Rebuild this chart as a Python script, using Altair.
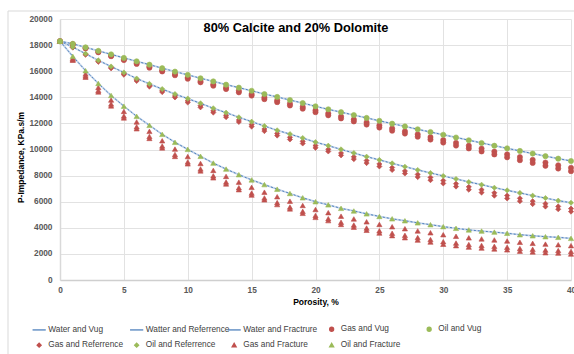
import altair as alt
import pandas as pd

porosity = list(range(41))

# Oil (and water) curves, KPa.s/m
oil_vug = [18300, 18100, 17830, 17560, 17290, 17020, 16760, 16500, 16230, 15970, 15720,
           15460, 15220, 14970, 14740, 14500, 14250, 14030, 13790, 13560, 13310,
           13080, 12860, 12640, 12420, 12200, 11980, 11770, 11550, 11340, 11130,
           10920, 10710, 10500, 10290, 10090, 9890, 9690, 9490, 9300, 9120]
oil_ref = [18300, 17850, 17340, 16830, 16360, 15900, 15440, 15030, 14630, 14250, 13900,
           13540, 13160, 12820, 12470, 12130, 11800, 11470, 11180, 10880, 10560,
           10290, 10010, 9730, 9450, 9200, 8940, 8680, 8430, 8200, 7970,
           7740, 7510, 7300, 7070, 6870, 6670, 6460, 6280, 6080, 5920]
oil_frac = [18300, 17140, 16040, 15060, 14140, 13320, 12540, 11850, 11160, 10550, 10010,
            9480, 8960, 8500, 8070, 7670, 7310, 6960, 6630, 6300, 6000,
            5760, 5490, 5290, 5070, 4870, 4690, 4540, 4380, 4240, 4090,
            3960, 3840, 3750, 3670, 3580, 3470, 3390, 3320, 3270, 3190]

water_vug = oil_vug
water_ref = oil_ref
water_frac = oil_frac

# Gas points (several saturations plotted under one legend entry)
gas_vug_1 = [18300, 18070, 17780, 17490, 17200, 16910, 16640, 16360, 16070, 15790, 15520,
             15250, 15000, 14740, 14500, 14250, 13990, 13760, 13510, 13270, 13010,
             12770, 12540, 12310, 12080, 11850, 11620, 11400, 11170, 10950, 10730,
             10510, 10290, 10070, 9840, 9630, 9420, 9210, 9000, 8790, 8600]
gas_vug_2 = [18300, 18050, 17750, 17450, 17150, 16850, 16560, 16270, 15980, 15690, 15420,
             15150, 14890, 14630, 14380, 14130, 13860, 13630, 13370, 13130, 12860,
             12620, 12380, 12150, 11910, 11680, 11440, 11220, 10980, 10760, 10530,
             10300, 10080, 9850, 9620, 9400, 9180, 8970, 8750, 8540, 8340]
gas_ref_1 = [18300, 17830, 17300, 16770, 16290, 15810, 15340, 14910, 14500, 14100, 13730,
             13360, 12970, 12620, 12260, 11910, 11570, 11230, 10930, 10630, 10300,
             10020, 9730, 9440, 9150, 8890, 8620, 8350, 8090, 7860, 7620,
             7380, 7140, 6920, 6680, 6470, 6260, 6040, 5850, 5640, 5470]
gas_ref_2 = [18300, 17810, 17260, 16720, 16220, 15730, 15250, 14820, 14400, 13990, 13600,
             13230, 12830, 12480, 12110, 11760, 11410, 11070, 10770, 10460, 10130,
             9850, 9550, 9260, 8960, 8700, 8430, 8160, 7890, 7650, 7400,
             7160, 6920, 6700, 6460, 6250, 6040, 5820, 5630, 5420, 5240]
gas_frac_1 = [18300, 16990, 15790, 14760, 13790, 12920, 12110, 11390, 10670, 10030, 9460,
              8930, 8400, 7940, 7500, 7100, 6730, 6380, 6040, 5710, 5400,
              5160, 4890, 4680, 4460, 4260, 4080, 3930, 3760, 3620, 3470,
              3350, 3230, 3150, 3070, 2990, 2890, 2810, 2750, 2700, 2630]
gas_frac_2 = [18300, 16890, 15640, 14530, 13490, 12570, 11740, 11000, 10270, 9620, 9050,
              8510, 7980, 7510, 7070, 6660, 6290, 5930, 5590, 5260, 4950,
              4700, 4420, 4210, 3980, 3770, 3580, 3420, 3250, 3100, 2940,
              2830, 2720, 2650, 2580, 2510, 2410, 2350, 2290, 2260, 2190]
gas_frac_3 = [18300, 16840, 15540, 14410, 13340, 12420, 11590, 10850, 10120, 9470, 8900,
              8360, 7830, 7360, 6920, 6510, 6140, 5780, 5450, 5110, 4800,
              4550, 4260, 4050, 3810, 3600, 3400, 3240, 3060, 2910, 2740,
              2630, 2520, 2450, 2380, 2310, 2210, 2150, 2090, 2060, 1990]

series_names = ["Water and Vug", "Watter and Referrence", "Water and Fractrure",
                "Gas and Vug", "Oil and Vug", "Gas and Referrence", "Oil and Referrence",
                "Gas and Fracture", "Oil and Fracture"]
BLUE, RED, GREEN = "#4F81BD", "#C0504D", "#9BBB59"
series_colors = [BLUE, BLUE, BLUE, RED, GREEN, RED, GREEN, RED, GREEN]
LINE_SYM = "M-3.3,0H3.3"
series_shapes = [LINE_SYM, LINE_SYM, LINE_SYM, "circle", "circle", "diamond", "diamond",
                 "triangle-up", "triangle-up"]

point_rows = []
for name, vals in [("Gas and Vug", gas_vug_1), ("Gas and Vug", gas_vug_2),
                   ("Gas and Referrence", gas_ref_1), ("Gas and Referrence", gas_ref_2),
                   ("Gas and Fracture", gas_frac_1), ("Gas and Fracture", gas_frac_2),
                   ("Gas and Fracture", gas_frac_3),
                   ("Oil and Vug", oil_vug), ("Oil and Referrence", oil_ref),
                   ("Oil and Fracture", oil_frac)]:
    for p, v in zip(porosity, vals):
        point_rows.append({"porosity": p, "imp": v, "series": name})
points_df = pd.DataFrame(point_rows)

line_rows = []
for name, vals in [("Water and Vug", water_vug), ("Watter and Referrence", water_ref),
                   ("Water and Fractrure", water_frac)]:
    for p, v in zip(porosity, vals):
        line_rows.append({"porosity": p, "imp": v, "series": name})
lines_df = pd.DataFrame(line_rows)

FONT = "Liberation Sans"

xenc = alt.X("porosity:Q", scale=alt.Scale(domain=[0, 40], nice=False),
             axis=alt.Axis(values=list(range(0, 41, 5)), ticks=False, labelPadding=5,
                           labelFlush=False,
                           labelFontSize=8.3, labelFontWeight="bold", labelColor="#595959",
                           gridColor="#E2E2E2", domainColor="#CFCFCF", domainWidth=1.5,
                           title="Porosity, %", titleFontSize=8.5, titleFontWeight="bold",
                           titleColor="#000000", titleY=24, titleBaseline="alphabetic"))
yenc = alt.Y("imp:Q", scale=alt.Scale(domain=[0, 20000], nice=False),
             axis=alt.Axis(values=list(range(0, 20001, 2000)), format="d", ticks=False,
                           labelPadding=8, labelFontSize=8.3, labelFontWeight="bold",
                           labelColor="#595959", gridColor="#E2E2E2", domainColor="#D9D9D9",
                           domainWidth=1.5, title="P-Impedance, KPa.s/m", titleFontSize=8.5,
                           titleFontWeight="bold", titleColor="#000000", titleX=-40, titleY=138,
                           titleAngle=270, titleAlign="center", titleBaseline="middle"))

legend = alt.Legend(orient="none", legendX=-25, legendY=306, columns=5, direction="horizontal",
                    title=None, symbolSize=16, symbolStrokeWidth=1.3, labelFont=FONT,
                    labelFontSize=8.3, labelColor="#404040", labelOffset=5, columnPadding=-5.5,
                    rowPadding=6, gridAlign="all", padding=0)

frame = alt.Chart(pd.DataFrame({"a": [0]})).mark_rect(
    fillOpacity=0, stroke="#D9D9D9", strokeWidth=1
).encode(x=alt.value(-52), x2=alt.value(540), y=alt.value(-8), y2=alt.value(360))

halo = alt.Chart(lines_df).mark_line(color="#C3D4EA", strokeWidth=1.8).encode(
    x=xenc, y=yenc, detail="series:N")
dash = alt.Chart(lines_df).mark_line(color=BLUE, strokeWidth=1, strokeDash=[2, 2]).encode(
    x=xenc, y=yenc, detail="series:N")

points = alt.Chart(points_df).mark_point(filled=True, size=27, strokeWidth=0.6, opacity=1).encode(
    x=xenc, y=yenc,
    fill=alt.Fill("series:N", scale=alt.Scale(domain=series_names, range=series_colors), legend=legend),
    stroke=alt.Stroke("series:N", scale=alt.Scale(domain=series_names, range=series_colors), legend=legend),
    shape=alt.Shape("series:N", scale=alt.Scale(domain=series_names, range=series_shapes), legend=legend),
)

chart = alt.layer(frame, halo, dash, points).properties(
    width=511, height=261,
    padding={"left": 60, "top": 19, "right": 3, "bottom": 74},
    autosize=alt.AutoSizeParams(type="none"),
    title=alt.TitleParams("80% Calcite and 20% Dolomite", fontSize=12.8, fontWeight="bold",
                          font=FONT, color="#000000", anchor="middle", frame="group",
                          offset=-10.3, baseline="alphabetic", dx=-19.5, dy=23.5),
).configure(font=FONT).configure_view(strokeWidth=0)

chart.save("out.html", embed_options={"renderer": "svg", "actions": False})
